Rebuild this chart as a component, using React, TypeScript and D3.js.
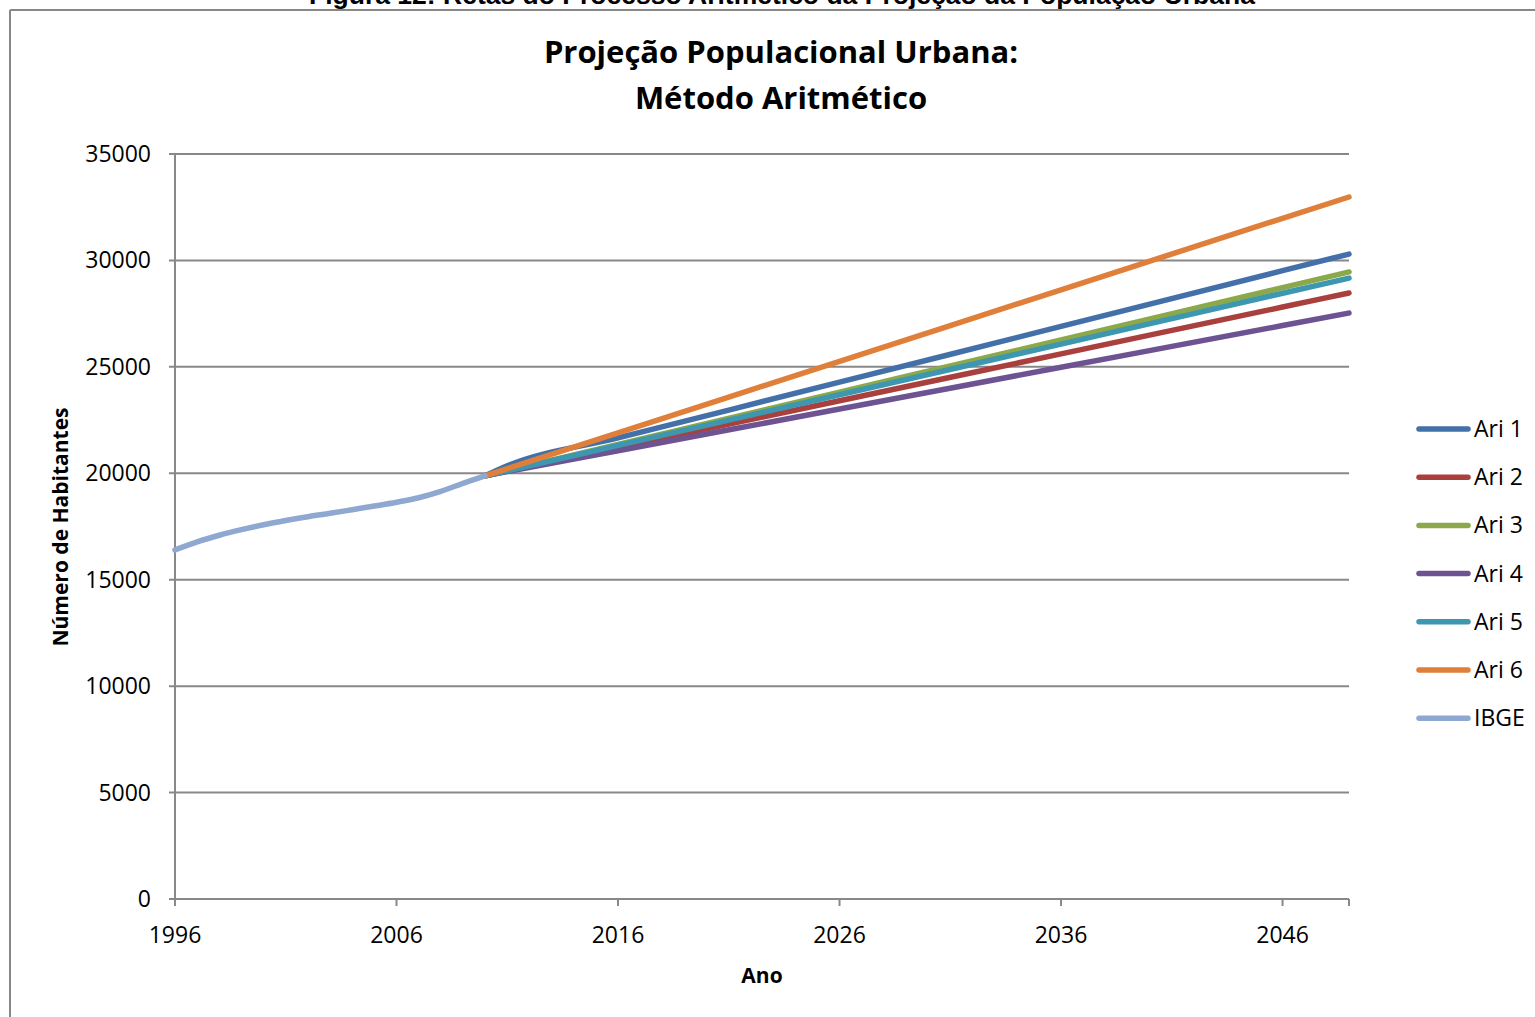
import React from "react";
import * as d3 from "d3";

const caption = "Figura 12: Retas do Processo Aritmético da Projeção da População Urbana";
const titleLines = ["Projeção Populacional Urbana:", "Método Aritmético"];
const xLabel = "Ano";
const yLabel = "Número de Habitantes";

const yTicks = [0, 5000, 10000, 15000, 20000, 25000, 30000, 35000];
const xTicks = [1996, 2006, 2016, 2026, 2036, 2046];

const ibgeYears = [1996, 1997, 1998, 1999, 2000, 2001, 2002, 2003, 2004, 2005, 2006, 2007, 2008, 2009, 2010];
const ibgeValues = [16400, 16780, 17090, 17350, 17580, 17780, 17960, 18120, 18290, 18460, 18640, 18850, 19150, 19530, 19880];

const ariYears = [2010, 2011, 2016, 2026, 2036, 2046, 2049];
const ari1 = [19880, 20350, 21660, 24280, 26900, 29520, 30300];
const ari2 = [19880, 20100, 21200, 23410, 25610, 27810, 28470];
const ari3 = [19880, 20130, 21350, 23810, 26270, 28720, 29460];
const ari4 = [19880, 20080, 21060, 23020, 24980, 26940, 27530];
const ari5 = [19880, 20120, 21310, 23690, 26070, 28460, 29170];
const ari6 = [19880, 20220, 21900, 25260, 28620, 31980, 32980];

const seriesNames = ["Ari 1", "Ari 2", "Ari 3", "Ari 4", "Ari 5", "Ari 6", "IBGE"];
const seriesColors = ["#4470A9", "#A9403E", "#8BA84B", "#6D5391", "#3E97B0", "#E07F39", "#8EA8D2"];

export default function App() {
  const W = 1535, H = 1017;
  const x = d3.scaleLinear().domain([1996, 2049]).range([175, 1349]);
  const y = d3.scaleLinear().domain([0, 35000]).range([899, 154]);

  const series = [
    { years: ariYears, values: ari1 },
    { years: ariYears, values: ari2 },
    { years: ariYears, values: ari3 },
    { years: ariYears, values: ari4 },
    { years: ariYears, values: ari5 },
    { years: ariYears, values: ari6 },
    { years: ibgeYears, values: ibgeValues },
  ];

  const line = d3
    .line<[number, number]>()
    .x((d) => x(d[0]))
    .y((d) => y(d[1]))
    .curve(d3.curveMonotoneX);

  const gray = "#888888";
  const font = "'Open Sans', sans-serif";

  return (
    <svg
      width={W}
      height={H}
      style={{ position: "absolute", left: 0, top: 0, background: "#fff" }}
    >
      <rect x={0} y={0} width={W} height={H} fill="#fff" />
      <text
        x={782}
        y={4}
        textAnchor="middle"
        fontFamily="'Liberation Sans', Arial, sans-serif"
        fontWeight="bold"
        fontSize={26.5}
        fill="#000"
      >
        {caption}
      </text>
      <line x1={10} y1={10} x2={W} y2={10} stroke={gray} strokeWidth={2} />
      <line x1={10} y1={10} x2={10} y2={H} stroke={gray} strokeWidth={2} />

      {titleLines.map((t, i) => (
        <text
          key={i}
          x={781}
          y={63 + i * 46}
          textAnchor="middle"
          fontFamily={font}
          fontWeight="bold"
          fontSize={31}
          fill="#000"
        >
          {t}
        </text>
      ))}

      {yTicks.map((v) => (
        <g key={v}>
          <line x1={169} x2={1349} y1={y(v)} y2={y(v)} stroke={gray} strokeWidth={2} />
          <text
            x={151}
            y={y(v) + 8}
            textAnchor="end"
            fontFamily={font}
            fontSize={23}
            fill="#000"
          >
            {v}
          </text>
        </g>
      ))}
      <line x1={175} x2={175} y1={154} y2={899} stroke={gray} strokeWidth={2} />
      {xTicks.map((v) => (
        <g key={v}>
          <line x1={x(v)} x2={x(v)} y1={899} y2={906} stroke={gray} strokeWidth={2} />
          <text
            x={x(v)}
            y={943}
            textAnchor="middle"
            fontFamily={font}
            fontSize={23}
            fill="#000"
          >
            {v}
          </text>
        </g>
      ))}
      <line x1={1349} x2={1349} y1={899} y2={906} stroke={gray} strokeWidth={2} />

      {series.map((s, i) => (
        <path
          key={i}
          d={line(s.years.map((yr, j) => [yr, s.values[j]] as [number, number])) || ""}
          fill="none"
          stroke={seriesColors[i]}
          strokeWidth={5.5}
          strokeLinecap="round"
          strokeLinejoin="round"
        />
      ))}

      <text
        x={762}
        y={983}
        textAnchor="middle"
        fontFamily={font}
        fontWeight="bold"
        fontSize={21}
        fill="#000"
      >
        {xLabel}
      </text>
      <text
        transform={`translate(68,527) rotate(-90)`}
        textAnchor="middle"
        fontFamily={font}
        fontWeight="bold"
        fontSize={21}
        fill="#000"
      >
        {yLabel}
      </text>

      {seriesNames.map((n, i) => (
        <g key={n}>
          <line
            x1={1419}
            x2={1468}
            y1={429 + i * 48.2}
            y2={429 + i * 48.2}
            stroke={seriesColors[i]}
            strokeWidth={5.5}
            strokeLinecap="round"
          />
          <text
            x={1474}
            y={429 + i * 48.2 + 8}
            fontFamily={font}
            fontSize={23}
            fill="#000"
          >
            {n}
          </text>
        </g>
      ))}
    </svg>
  );
}
